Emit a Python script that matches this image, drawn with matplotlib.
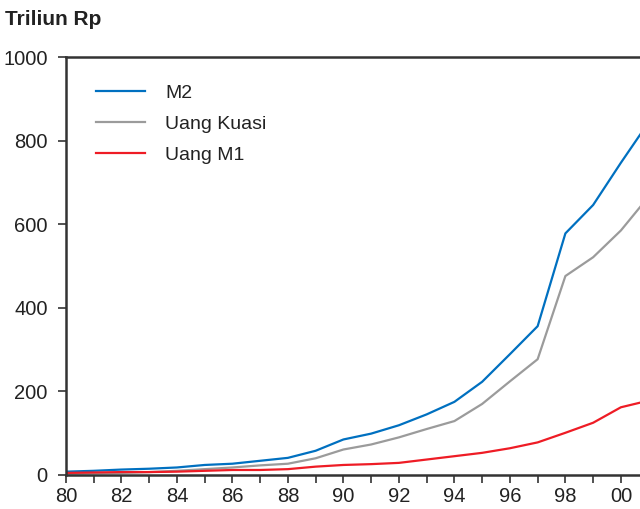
import matplotlib
matplotlib.use("Agg")
from matplotlib import pyplot as plt
import numpy as np

plt.rcParams['font.family'] = ['Liberation Sans', 'DejaVu Sans']

# tahun 1980 - 2001
years = list(range(1980, 2002))

m2 = [8, 10, 13, 15, 18, 24, 27, 34, 41, 58, 85, 99, 119, 145, 175, 223,
      289, 356, 578, 646, 747, 844]
uang_kuasi = [3, 4, 5, 7, 10, 14, 18, 23, 27, 40, 61, 73, 90, 110, 129, 170,
              224, 277, 476, 521, 585, 666]
uang_m1 = [5, 6, 7, 7, 8, 10, 12, 12, 14, 20, 24, 26, 29, 37, 45, 53,
           64, 78, 101, 125, 162, 178]

tick_years = list(range(1980, 2001, 2))
tick_labels = ["%02d" % (y % 100) for y in tick_years]

fig = plt.figure(figsize=(6.4, 5.09), dpi=100)
# right edge of the axes falls outside the picture (chart is cropped)
ax = fig.add_axes([0.103, 0.0668, 0.9105, 0.8212])

ax.plot(years, m2, color="#0070C0", lw=1.6, label="M2")
ax.plot(years, uang_kuasi, color="#9B9B9B", lw=1.6, label="Uang Kuasi")
ax.plot(years, uang_m1, color="#EE1C25", lw=1.6, label="Uang M1")

ax.set_xlim(1980, 2001)
ax.set_ylim(0, 1000)
ax.set_yticks([0, 200, 400, 600, 800, 1000])
ax.set_xticks(tick_years)
ax.set_xticklabels(tick_labels)
ax.set_xticks(range(1980, 2002), minor=True)

ax.tick_params(axis="both", which="both", direction="out", length=6,
               width=1.2, color="#333333", labelcolor="#222222",
               labelsize=14.5)
ax.tick_params(axis="x", pad=3)
ax.tick_params(axis="y", pad=7)

for s in ["left", "bottom", "top"]:
    ax.spines[s].set_linewidth(1.8)
    ax.spines[s].set_color("#333333")
ax.spines["right"].set_visible(False)

leg = ax.legend(loc="upper left", bbox_to_anchor=(0.0515, 0.935),
                frameon=False, fontsize=14, handlelength=2.5,
                handletextpad=1.05, labelspacing=0.7, borderpad=0,
                borderaxespad=0)
for t in leg.get_texts():
    t.set_color("#222222")

fig.text(0.008, 0.962, "Triliun Rp", fontsize=15, fontweight="bold",
         color="#222222", va="center", ha="left")

plt.savefig("out.png", dpi=100)
